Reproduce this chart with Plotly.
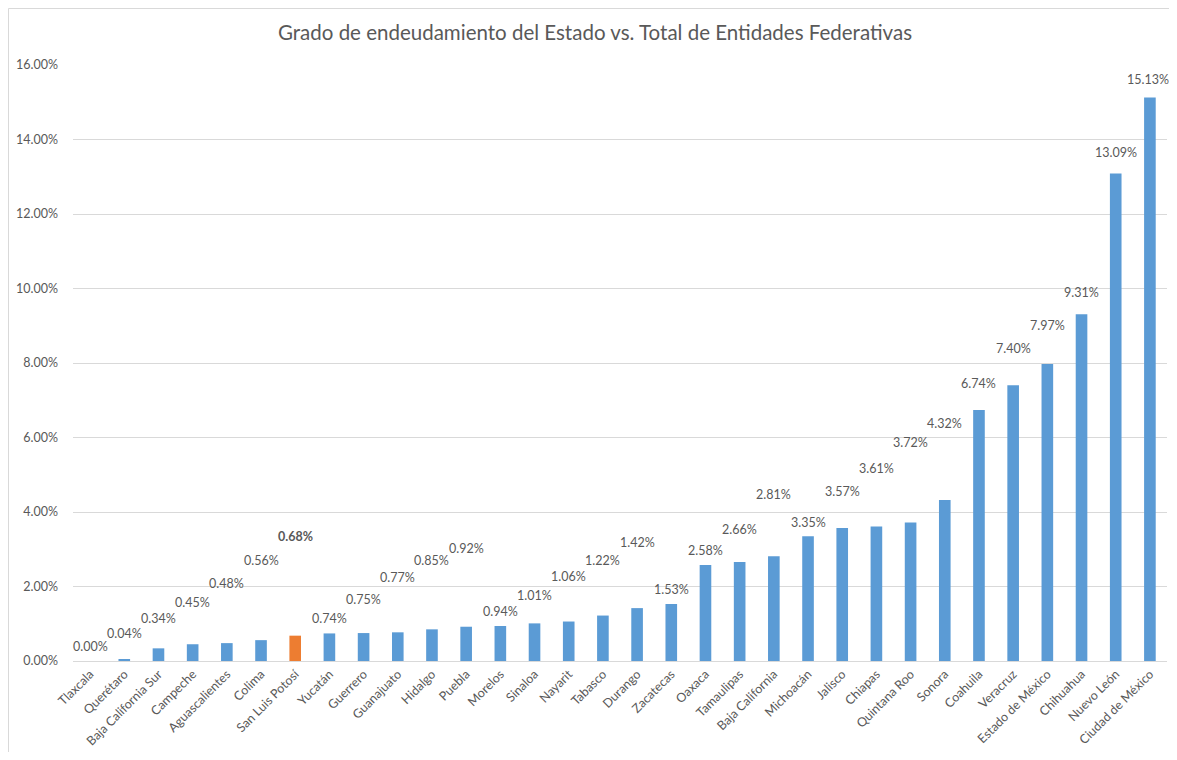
import plotly.graph_objects as go

estados = ["Tlaxcala", "Querétaro", "Baja California Sur", "Campeche", "Aguascalientes", "Colima",
           "San Luis Potosí", "Yucatán", "Guerrero", "Guanajuato", "Hidalgo", "Puebla", "Morelos",
           "Sinaloa", "Nayarit", "Tabasco", "Durango", "Zacatecas", "Oaxaca", "Tamaulipas",
           "Baja California", "Michoacán", "Jalisco", "Chiapas", "Quintana Roo", "Sonora", "Coahuila",
           "Veracruz", "Estado de México", "Chihuahua", "Nuevo León", "Ciudad de México"]
endeudamiento = [0.00, 0.04, 0.34, 0.45, 0.48, 0.56, 0.68, 0.74, 0.75, 0.77, 0.85, 0.92, 0.94,
                 1.01, 1.06, 1.22, 1.42, 1.53, 2.58, 2.66, 2.81, 3.35, 3.57, 3.61, 3.72, 4.32,
                 6.74, 7.40, 7.97, 9.31, 13.09, 15.13]
# vertical placement of each data label (in axis units, %), as moved in the original
label_y = [0.38, 0.75, 1.13, 1.58, 2.09, 2.71, 3.33, 1.13, 1.64, 2.23, 2.69, 3.01, 1.32,
           1.77, 2.28, 2.69, 3.17, 1.91, 2.98, 3.52, 4.46, 3.73, 4.54, 5.17, 5.87, 6.37,
           7.46, 8.40, 9.02, 9.88, 13.64, 15.62]
destacado = "San Luis Potosí"
y_ticks = [0, 2, 4, 6, 8, 10, 12, 14, 16]

BLUE = "#5B9BD5"
ORANGE = "#ED7D31"
GREY = "#595959"
FONT = "Lato"

colors = [ORANGE if e == destacado else BLUE for e in estados]

fig = go.Figure()
fig.add_trace(go.Bar(x=estados, y=endeudamiento, marker=dict(color=colors, line=dict(width=0)),
                     width=0.34, hoverinfo="x+y"))

n = len(estados)
for i, (e, v, ly) in enumerate(zip(estados, endeudamiento, label_y)):
    txt = f"{v:.2f}%"
    if e == destacado:
        txt = f"<b>{txt}</b>"
    last = i == n - 1
    fig.add_annotation(x=e, y=ly, xref="x", yref="y", text=txt, showarrow=False,
                       xanchor="right" if last else "center", xshift=21 if last else 0,
                       font=dict(family=FONT, size=12.5, color=GREY))

# the page body adds an 8px margin on every side, so the figure is sized to fit the window
OFF = 8
W, H = 1177 - 2 * OFF, 760 - 2 * OFF
L, T = 73 - OFF, 65 - OFF
R = W - (1167 - OFF)
B = H - (661 - OFF)
pw, ph = W - L - R, H - T - B


def px(xp):
    return (xp - OFF - L) / pw


def py(yp):
    return (H - B - (yp - OFF)) / ph


border = dict(color="#D9D9D9", width=1)
fig.add_shape(type="line", xref="paper", yref="paper", x0=px(8.5), x1=px(OFF + W), y0=py(8.5), y1=py(8.5),
              line=border, layer="below")
fig.add_shape(type="line", xref="paper", yref="paper", x0=px(8.5), x1=px(8.5), y0=py(8.5), y1=py(OFF + H),
              line=border, layer="below")

fig.update_layout(
    width=W, height=H,
    margin=dict(l=L, r=R, t=T, b=B, pad=0),
    paper_bgcolor="white", plot_bgcolor="white",
    showlegend=False,
    title=dict(text="Grado de endeudamiento del Estado vs. Total de Entidades Federativas",
               x=(595 - OFF) / W, xref="container", xanchor="center", y=1 - (33 - OFF) / H,
               yref="container", yanchor="middle",
               font=dict(family=FONT, size=20.5, color=GREY)),
    font=dict(family=FONT, color=GREY),
    bargap=0.66,
)
fig.update_xaxes(tickangle=-45, tickfont=dict(family=FONT, size=12.5, color=GREY),
                 showline=True, linecolor="#D9D9D9", linewidth=1, ticks="", showgrid=False,
                 range=[-0.5, n - 0.5], automargin=False)
fig.update_yaxes(range=[0, 16], tickvals=y_ticks, ticktext=[f"{t:.2f}%" for t in y_ticks],
                 tickfont=dict(family=FONT, size=12.5, color=GREY), showgrid=True,
                 gridcolor="#D9D9D9", gridwidth=1, zeroline=False, showline=False, ticks="",
                 ticklabelstandoff=14, automargin=False)

fig.write_html("out.html")
